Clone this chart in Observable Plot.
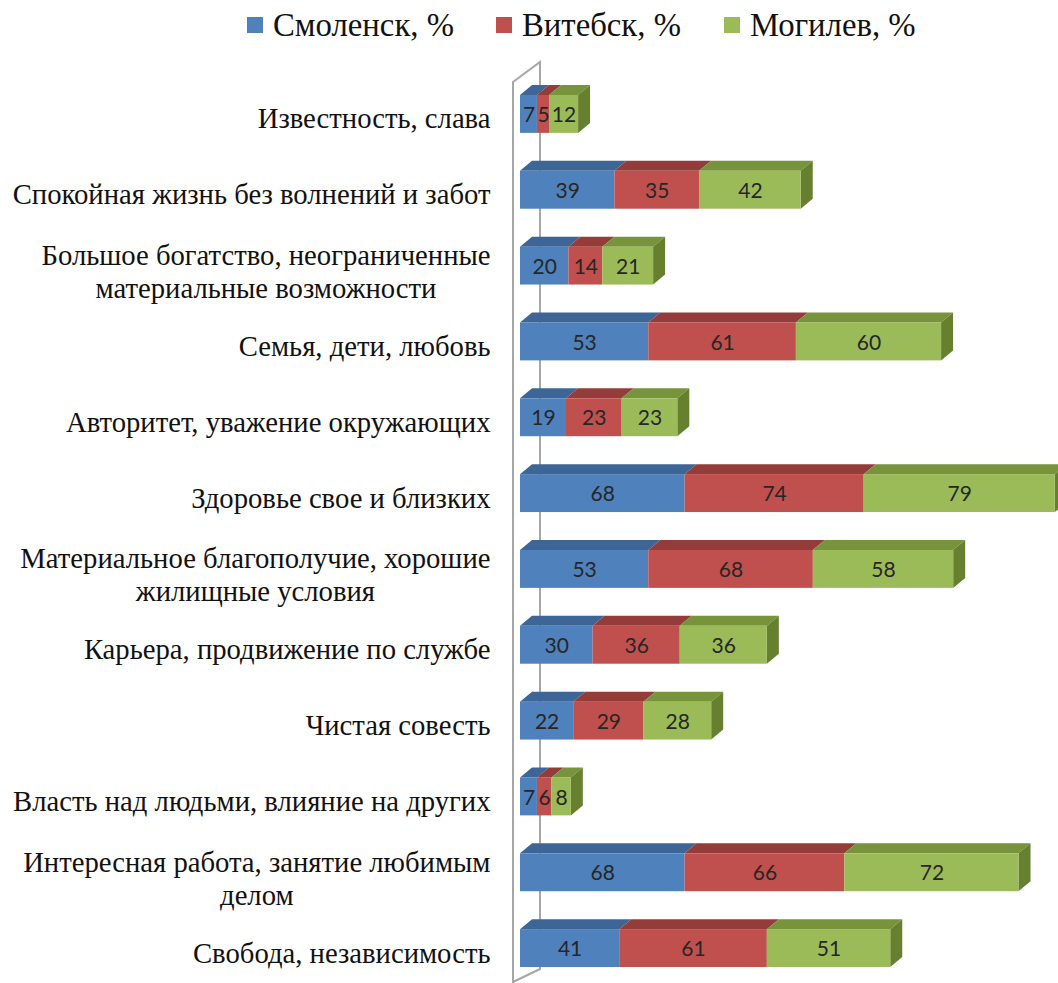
<!DOCTYPE html>
<html><head><meta charset="utf-8">
<script src="https://cdn.jsdelivr.net/npm/d3@7"></script>
<script src="https://cdn.jsdelivr.net/npm/@observablehq/plot@0.6"></script>
<style>
body{margin:0;background:#fff;}
#legend{position:relative;height:50px;width:1058px;font-family:"Liberation Serif",serif;color:#111;}
.item{position:absolute;top:6px;line-height:38px;height:38px;white-space:nowrap}
.sw{position:absolute;width:16px;height:16px}
#chart svg{display:block}
</style></head><body>
<div id="legend"></div><div id="chart"></div>
<script>
const categories = [
  "Известность, слава",
  "Спокойная жизнь без волнений и забот",
  "Большое богатство, неограниченные\nматериальные возможности",
  "Семья, дети, любовь",
  "Авторитет, уважение окружающих",
  "Здоровье свое и близких",
  "Материальное благополучие, хорошие\nжилищные условия",
  "Карьера, продвижение по службе",
  "Чистая совесть",
  "Власть над людьми, влияние на других",
  "Интересная работа, занятие любимым\nделом",
  "Свобода, независимость"
];
const cities = ["Смоленск, %", "Витебск, %", "Могилев, %"];
const smolensk = [7, 39, 20, 53, 19, 68, 53, 30, 22, 7, 68, 41];
const vitebsk  = [5, 35, 14, 61, 23, 74, 68, 36, 29, 6, 66, 61];
const mogilev  = [12, 42, 21, 60, 23, 79, 58, 36, 28, 8, 72, 51];

const colors = ["#4F81BD", "#C0504D", "#9BBB59"];
const topColors = ["#3D6696", "#943C3A", "#77933C"];
const sideColor = "#66802F";
const series = [smolensk, vitebsk, mogilev];
const SERIF = '"Liberation Serif", serif';

// text measuring helper (SVG based, removed afterwards)
const tmp = d3.select("body").append("svg").attr("width", 10).attr("height", 10)
  .style("position", "absolute").style("left", "-3000px").style("top", "0px");
function measure(text, size) {
  const t = tmp.append("text").attr("font-family", SERIF).attr("font-size", size).text(text);
  let w = 0;
  try { w = t.node().getComputedTextLength(); } catch (e) { w = 0; }
  t.remove();
  return w > 0 ? w : text.length * size * 0.45;
}
function clamp(v, a, b) { return Math.max(a, Math.min(b, v)); }

// legend: fit font so "Смоленск, %" is ~181px wide
const legendSize = clamp(33 * 181 / measure(cities[0], 33), 26, 38);
// category labels: fit font so the widest single line is ~478px
const LABEL_FONT = clamp(28.5 * 478 / measure(categories[1], 28.5), 22, 32);
const multiWidths = {};
for (const c of categories.filter(c => c.includes("\n"))) {
  multiWidths[c] = Math.max(...c.split("\n").map(l => measure(l, LABEL_FONT)));
}
tmp.remove();

const legend = document.getElementById("legend");
legend.style.fontSize = legendSize + "px";
const textLefts = [273, 522, 750];
cities.forEach((c, k) => {
  const sw = document.createElement("div");
  sw.className = "sw";
  sw.style.left = (textLefts[k] - 26) + "px";
  sw.style.top = "17px";
  sw.style.background = colors[k];
  legend.appendChild(sw);
  const it = document.createElement("div");
  it.className = "item";
  it.style.left = textLefts[k] + "px";
  it.textContent = c;
  legend.appendChild(it);
});

const rows = [];
categories.forEach((c, i) => series.forEach((s, k) => rows.push({category: c, city: cities[k], value: s[i], k})));

// cumulative stack for the 3D faces
const stacked = [];
categories.forEach((c, i) => {
  let acc = 0;
  series.forEach((s, k) => { stacked.push({category: c, k, x1: acc, x2: acc + s[i]}); acc += s[i]; });
});

const DX = 12, DY = 10;
function wall(index, scales) {
  const x = scales.x;
  const X0 = x(0);
  const g = d3.create("svg:g").attr("fill", "none").attr("stroke", "#A6A6A6").attr("stroke-width", 2);
  g.append("path").attr("d", `M${X0 - 7},935 L${X0 - 7},32 L${X0 + 20},12 L${X0 + 20},919 L${X0 - 7},932`);
  return g.node();
}
function faces(index, scales) {
  const {x, y} = scales;
  const bw = typeof y.bandwidth === "function" ? y.bandwidth() : y.bandwidth;
  const g = d3.create("svg:g");
  for (const r of stacked) {
    const yt = y(r.category), yb = yt + bw;
    const X1 = x(r.x1), X2 = x(r.x2);
    g.append("polygon").attr("points", [[X1, yt], [X1 + DX, yt - DY], [X2 + DX, yt - DY], [X2, yt]].join(" ")).attr("fill", topColors[r.k]);
    if (r.k === 2) {
      g.append("polygon").attr("points", [[X2, yt], [X2 + DX, yt - DY], [X2 + DX, yb - DY], [X2, yb]].join(" ")).attr("fill", sideColor);
    }
  }
  return g.node();
}

const LINE_H = 33 / LABEL_FONT;
const DYL = 14 - 0.32 * LABEL_FONT;
const single = categories.filter(c => !c.includes("\n"));
const multi = categories.filter(c => c.includes("\n"));
const labelMarks = [
  Plot.text(single, {x: 0, y: d => d, text: d => d, textAnchor: "end", dx: -30, dy: DYL,
    fontSize: LABEL_FONT, fontFamily: SERIF, fill: "#111"})
];
for (const c of multi) {
  const w = multiWidths[c];
  labelMarks.push(Plot.text([c], {x: 0, y: d => d, text: d => d, textAnchor: "middle", dx: -30 - w / 2, dy: DYL,
    lineHeight: LINE_H, fontSize: LABEL_FONT, fontFamily: SERIF, fill: "#111"}));
}

const chart = Plot.plot({
  width: 1058,
  height: 933,
  margin: 0,
  style: {background: "#fff", overflow: "hidden"},
  x: {domain: [0, 230], range: [520, 520 + 230 * 2.42], axis: null},
  y: {domain: categories, range: [26, 936], paddingInner: 0.5, paddingOuter: 0.25, round: false, axis: null},
  color: {domain: cities, range: colors},
  marks: [
    wall,
    faces,
    Plot.barX(rows, {x: "value", y: "category", fill: "city"}),
    Plot.text(rows, Plot.stackX({x: "value", y: "category", text: d => String(d.value), dy: 1,
      fill: "#262626", fontSize: 21, fontFamily: "Lato"})),
    ...labelMarks
  ]
});
document.getElementById("chart").appendChild(chart);
</script>
</body></html>
